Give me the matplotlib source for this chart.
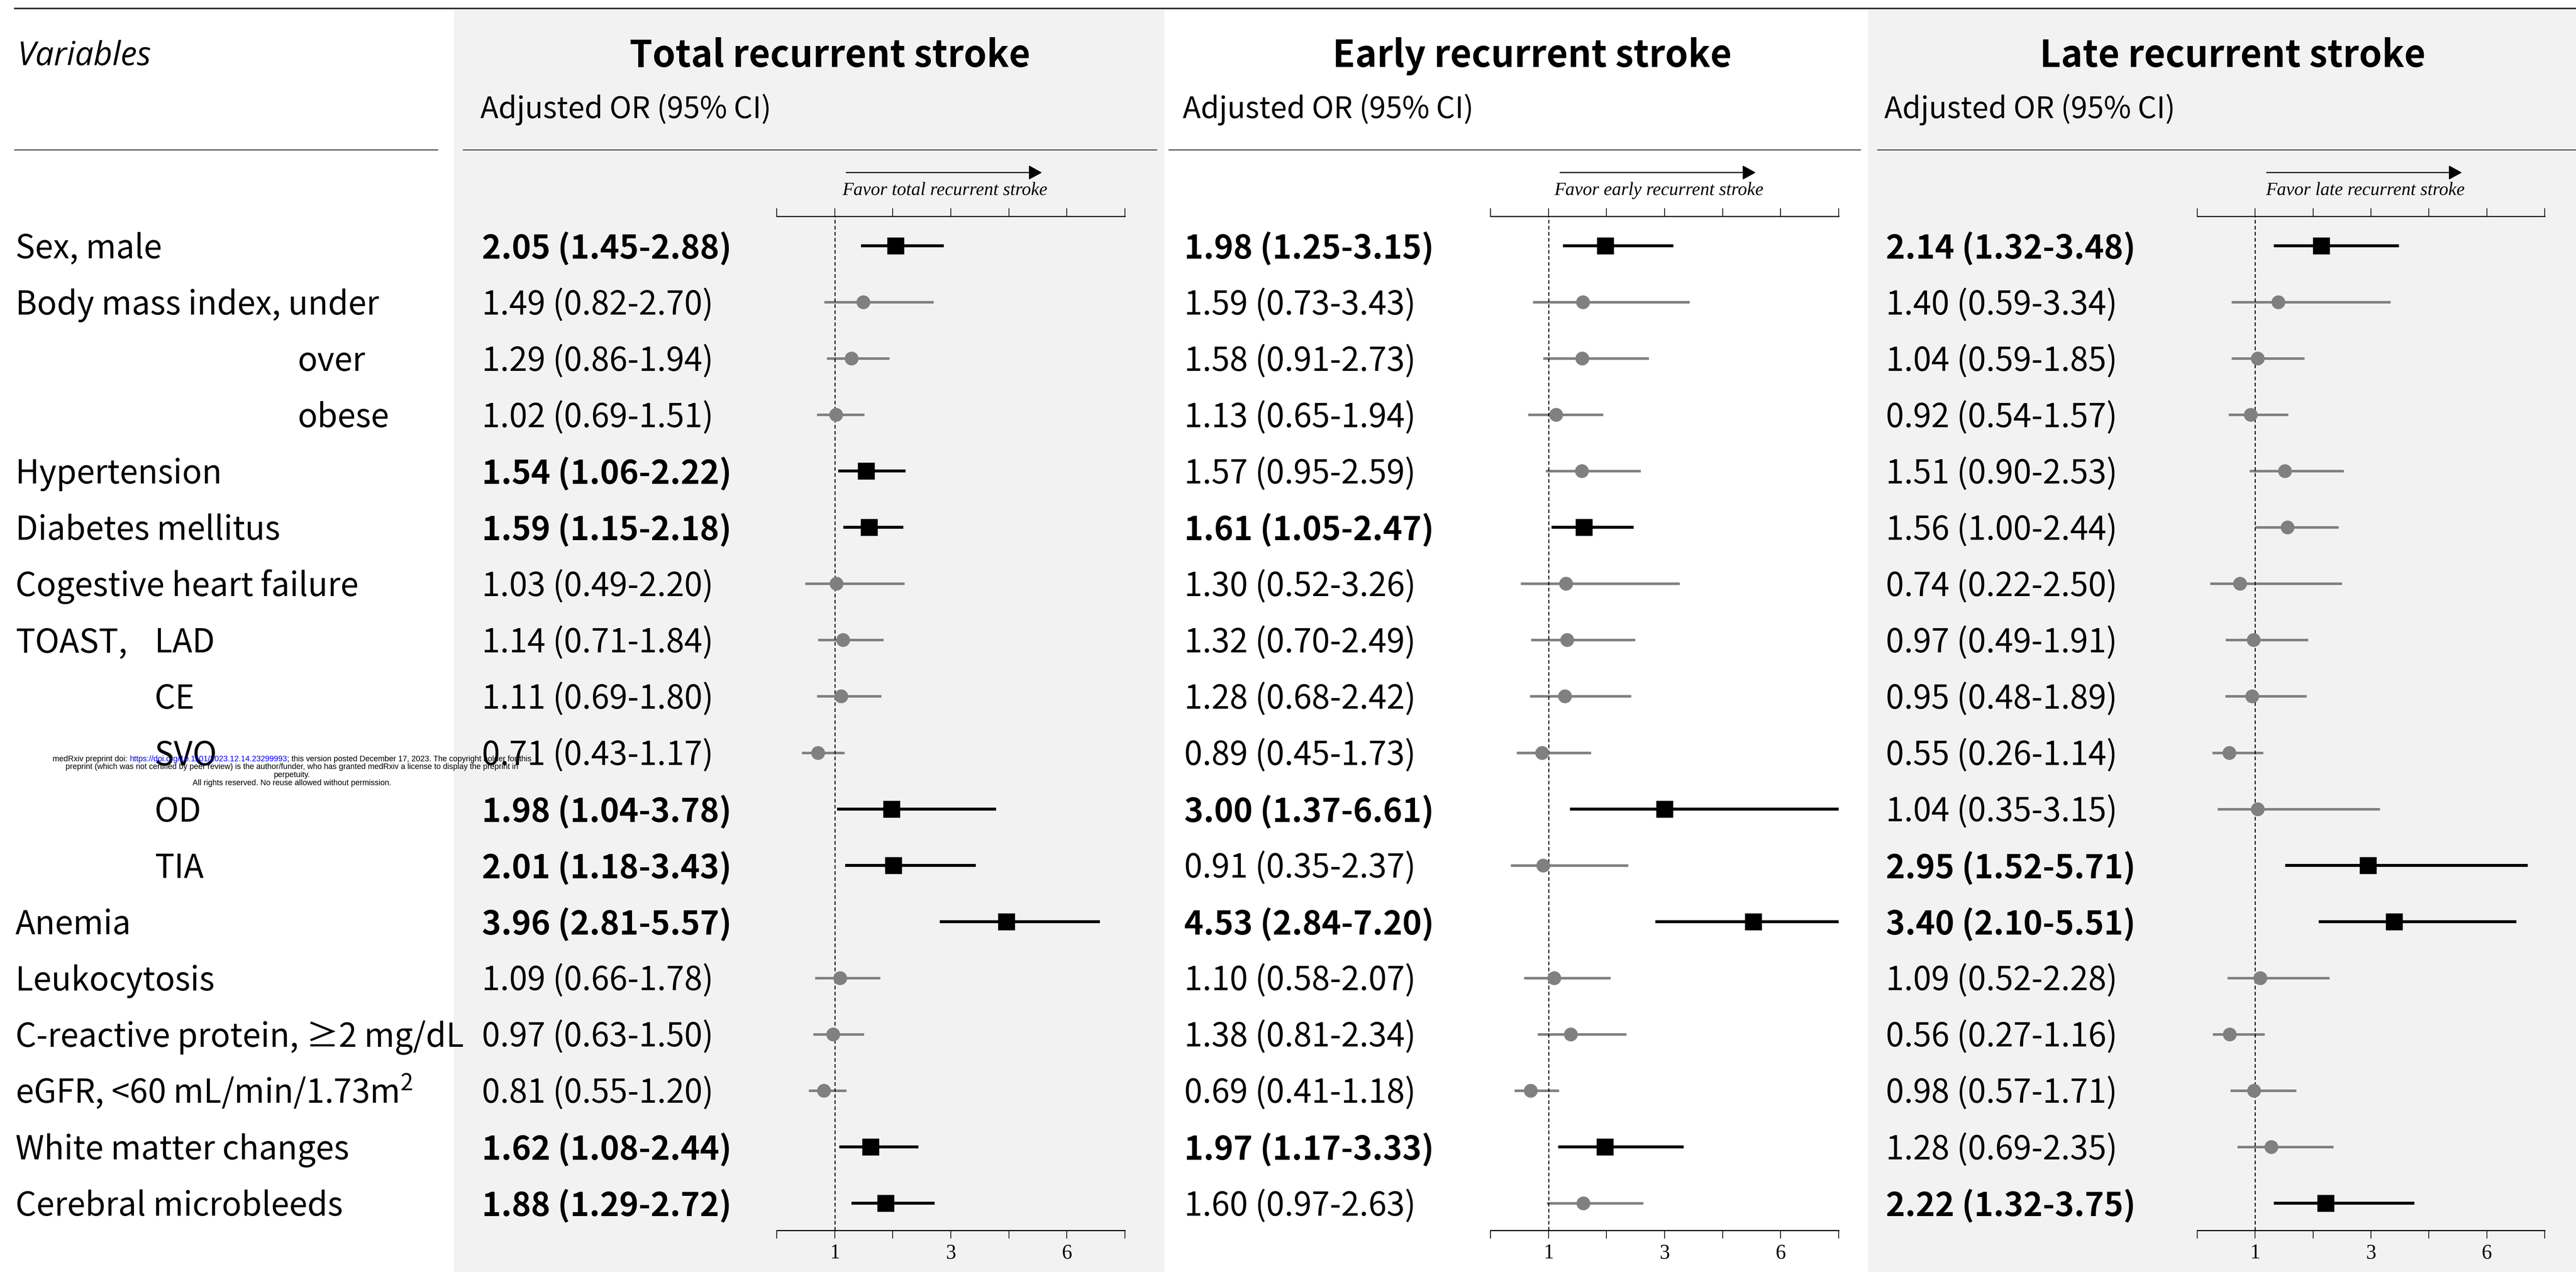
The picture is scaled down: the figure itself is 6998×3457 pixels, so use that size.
"""
forest plot: adjusted OR for total / early / late recurrent stroke
"""
import matplotlib.pyplot as plt
import numpy as np

plt.rcParams['font.family'] = ['Noto Sans CJK KR', 'DejaVu Sans']
plt.rcParams['mathtext.fontset'] = 'custom'
plt.rcParams['mathtext.rm'] = 'Noto Sans CJK KR'

# ---- data ----
variables = ['Sex, male', 'Body mass index, under', 'over', 'obese', 'Hypertension',
             'Diabetes mellitus', 'Cogestive heart failure', 'LAD', 'CE', 'SVO', 'OD', 'TIA',
             'Anemia', 'Leukocytosis', 'C-reactive protein, \u22652 mg/dL',
             'eGFR, <60 mL/min/1.73m$^2$', 'White matter changes', 'Cerebral microbleeds']
var_level = [0, 0, 2, 2, 0, 0, 0, 1, 1, 1, 1, 1, 0, 0, 0, 0, 0, 0]

total_or = [2.05, 1.49, 1.29, 1.02, 1.54, 1.59, 1.03, 1.14, 1.11, 0.71, 1.98, 2.01, 3.96, 1.09, 0.97, 0.81, 1.62, 1.88]
total_lo = [1.45, 0.82, 0.86, 0.69, 1.06, 1.15, 0.49, 0.71, 0.69, 0.43, 1.04, 1.18, 2.81, 0.66, 0.63, 0.55, 1.08, 1.29]
total_hi = [2.88, 2.70, 1.94, 1.51, 2.22, 2.18, 2.20, 1.84, 1.80, 1.17, 3.78, 3.43, 5.57, 1.78, 1.50, 1.20, 2.44, 2.72]

early_or = [1.98, 1.59, 1.58, 1.13, 1.57, 1.61, 1.30, 1.32, 1.28, 0.89, 3.00, 0.91, 4.53, 1.10, 1.38, 0.69, 1.97, 1.60]
early_lo = [1.25, 0.73, 0.91, 0.65, 0.95, 1.05, 0.52, 0.70, 0.68, 0.45, 1.37, 0.35, 2.84, 0.58, 0.81, 0.41, 1.17, 0.97]
early_hi = [3.15, 3.43, 2.73, 1.94, 2.59, 2.47, 3.26, 2.49, 2.42, 1.73, 6.61, 2.37, 7.20, 2.07, 2.34, 1.18, 3.33, 2.63]

late_or = [2.14, 1.40, 1.04, 0.92, 1.51, 1.56, 0.74, 0.97, 0.95, 0.55, 1.04, 2.95, 3.40, 1.09, 0.56, 0.98, 1.28, 2.22]
late_lo = [1.32, 0.59, 0.59, 0.54, 0.90, 1.00, 0.22, 0.49, 0.48, 0.26, 0.35, 1.52, 2.10, 0.52, 0.27, 0.57, 0.69, 1.32]
late_hi = [3.48, 3.34, 1.85, 1.57, 2.53, 2.44, 2.50, 1.91, 1.89, 1.14, 3.15, 5.71, 5.51, 2.28, 1.16, 1.71, 2.35, 3.75]

titles = ['Total recurrent stroke', 'Early recurrent stroke', 'Late recurrent stroke']
favor_labels = ['Favor total recurrent stroke', 'Favor early recurrent stroke', 'Favor late recurrent stroke']
tick_pos = [0, 1, 2, 3, 4, 5, 6]
tick_lab = ['', '1', '', '3', '', '6', '']

# ---- layout (pixels) ----
W, H = 6998, 3457
row_y0, row_dy = 668, 153.06
ax_top, ax_bot = 588, 3344
panel_x = [(2110, 3056), (4049, 4995), (5969, 6913)]
band_x = [(1233, 3163), None, (5075, 6998)]
title_cx = [2254, 4162, 6065]
text_x = [1305, 3213, 5119]
sep_lines = [(38, 1190), (1257, 3143), (3174, 5055), (5099, 6998)]
level_x = [42, 420, 808]
row_fs = 64

fig = plt.figure(figsize=(W / 100, H / 100), dpi=100)
bg = fig.add_axes([0, 0, 1, 1])
bg.set_xlim(0, W)
bg.set_ylim(H, 0)
bg.axis('off')

for b in band_x:
    if b:
        bg.axvspan(b[0], b[1], ymin=0, ymax=1 - 23 / H, color='#f2f2f2', lw=0)

bg.plot([38, W], [23, 23], color='#262626', lw=2.9, solid_capstyle='butt')
for x0, x1 in sep_lines:
    bg.plot([x0, x1], [407, 407], color='#404040', lw=2.0, solid_capstyle='butt')

bg.text(48, 177, 'Variables', fontsize=64, style='italic', family=['Open Sans', 'DejaVu Sans'], va='baseline')

for i, (lab, lev) in enumerate(zip(variables, var_level)):
    yb = row_y0 + i * row_dy + 34
    bg.text(level_x[lev], yb, lab, fontsize=row_fs, va='baseline')
    if i == 7:
        bg.text(level_x[0], yb, 'TOAST,', fontsize=row_fs, va='baseline')

panels = [(total_or, total_lo, total_hi), (early_or, early_lo, early_hi), (late_or, late_lo, late_hi)]

for k, (ors, los, his) in enumerate(panels):
    ors, los, his = np.array(ors), np.array(los), np.array(his)
    sig = (los > 1) | (his < 1)

    bg.text(title_cx[k], 182, titles[k], fontsize=72, fontweight='bold', ha='center', va='baseline')
    bg.text(text_x[k], 321, 'Adjusted OR (95% CI)', fontsize=58, va='baseline')
    for i in range(len(ors)):
        bg.text(text_x[k] + 4, row_y0 + i * row_dy + 34,
                f'{ors[i]:.2f} ({los[i]:.2f}-{his[i]:.2f})', fontsize=row_fs,
                fontweight='bold' if sig[i] else 'normal', va='baseline')

    x0, x1 = panel_x[k]
    ax = fig.add_axes([x0 / W, 1 - ax_bot / H, (x1 - x0) / W, (ax_bot - ax_top) / H])
    ax.patch.set_alpha(0)
    ax.set_xlim(0, 6)
    ax.set_ylim((ax_bot - row_y0) / row_dy, (ax_top - row_y0) / row_dy)
    for s in ['left', 'right']:
        ax.spines[s].set_visible(False)
    for s in ['top', 'bottom']:
        ax.spines[s].set_linewidth(2.2)
    ax.set_yticks([])
    ax.set_xticks(tick_pos)
    ax.set_xticklabels(tick_lab, family='Liberation Serif', fontsize=40)
    ax.tick_params(axis='x', top=True, bottom=True, direction='out', length=16, width=1.5, pad=10)

    ax.axvline(1, color='black', lw=2.0, ls=(0, (3.6, 2.3)), zorder=2.5)

    for i in range(len(ors)):
        c = 'black' if sig[i] else '#808080'
        ax.plot([los[i], his[i]], [i, i], color=c, lw=5.8 if sig[i] else 5.0,
                solid_capstyle='butt', zorder=2)
        ax.plot(ors[i], i, marker='s' if sig[i] else 'o', ms=33 if sig[i] else 27,
                color=c, mec='none', zorder=3)

    ax.annotate('', xy=(4.57, 1.0432), xytext=(1.2, 1.0432),
                xycoords=ax.get_xaxis_transform(), annotation_clip=False,
                arrowprops=dict(arrowstyle='-|>,head_length=0.4,head_width=0.22',
                                mutation_scale=55, lw=2.2, color='black',
                                shrinkA=0, shrinkB=0))
    ax.text(2.9, 1.0254, favor_labels[k], transform=ax.get_xaxis_transform(),
            ha='center', va='center', family='Liberation Serif', style='italic', fontsize=36)

# medRxiv watermark
r = fig.canvas.get_renderer()
wm_font = ['Liberation Sans Narrow', 'Liberation Sans']
wm_lines = [
    [('medRxiv preprint doi: ', 'black'), ('https://doi.org/10.1101/2023.12.14.23299993', 'blue'),
     ('; this version posted December 17, 2023. The copyright holder for this', 'black')],
    [('preprint (which was not certified by peer review) is the author/funder, who has granted medRxiv a license to display the preprint in', 'black')],
    [('perpetuity.', 'black')],
    [('All rights reserved. No reuse allowed without permission.', 'black')],
]
for j, parts in enumerate(wm_lines):
    y = 2063 + j * 21.7
    ts = [bg.text(0, y, p, color=c, fontsize=15.5, family=wm_font, va='center', zorder=10)
          for p, c in parts]
    ws = [t.get_window_extent(r).width for t in ts]
    x = 793 - sum(ws) / 2
    for t, w in zip(ts, ws):
        t.set_x(x)
        x += w

fig.savefig('out.png', dpi=100)
